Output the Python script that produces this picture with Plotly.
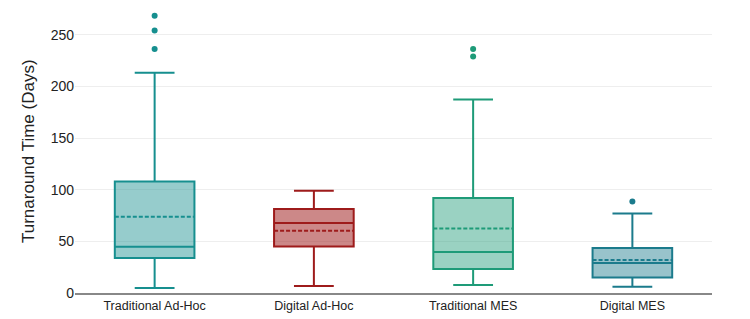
import plotly.graph_objects as go

categories = ["Traditional Ad-Hoc", "Digital Ad-Hoc", "Traditional MES", "Digital MES"]
q1 = [33.9, 45.1, 23.2, 15.1]
median = [44.8, 67.7, 39.7, 29.0]
q3 = [108.0, 81.3, 92.0, 43.5]
lowerfence = [4.8, 6.8, 7.7, 6.1]
upperfence = [213.3, 99.0, 187.4, 77.0]
mean = [73.9, 60.3, 62.5, 31.9]
outliers = [[268.4, 254.2, 236.2], [], [236.2, 229.0], [88.7]]
y_title = "Turnaround Time (Days)"

line_colors = ["#168f8f", "#9e1b1b", "#1e9b78", "#1b7b8c"]
fill_colors = ["rgba(22,143,143,0.45)", "rgba(158,27,27,0.52)",
               "rgba(30,155,120,0.45)", "rgba(27,123,140,0.45)"]

fig = go.Figure()
for i, c in enumerate(categories):
    fig.add_trace(go.Box(
        x=[c], q1=[q1[i]], median=[median[i]], q3=[q3[i]],
        lowerfence=[lowerfence[i]], upperfence=[upperfence[i]], mean=[mean[i]],
        boxmean=True, name=c, boxpoints=False, width=0.5,
        line=dict(color=line_colors[i], width=2),
        fillcolor=fill_colors[i], whiskerwidth=0.5, showlegend=False,
    ))
    if outliers[i]:
        fig.add_trace(go.Scatter(
            x=[c] * len(outliers[i]), y=outliers[i], mode="markers",
            marker=dict(color=line_colors[i], size=6), showlegend=False,
            hoverinfo="y",
        ))

fig.update_layout(
    width=750, height=319,
    margin=dict(l=75, r=38, t=9, b=26),
    plot_bgcolor="white", paper_bgcolor="white",
    boxmode="overlay",
    font=dict(family="Liberation Sans, Arial, sans-serif", size=12, color="#222222"),
)
fig.add_annotation(
    text=y_title, xref="paper", yref="paper", x=0, y=0.5,
    xshift=-47, xanchor="center", yanchor="middle", textangle=-90,
    showarrow=False, font=dict(size=17, color="#222222"),
)
fig.update_xaxes(
    type="category", categoryorder="array", categoryarray=categories,
    range=[-0.5, 3.5], automargin=False,
    showline=True, linecolor="#888888", linewidth=1.5,
    showgrid=False, ticks="", tickfont=dict(size=12.5),
)
fig.update_yaxes(
    range=[0, 275], tickvals=[0, 50, 100, 150, 200, 250], automargin=False,
    showgrid=True, gridcolor="#eeeeee", gridwidth=1,
    zeroline=False, showline=False, ticks="",
    tickfont=dict(size=14),
)

fig.write_html("out.html")
